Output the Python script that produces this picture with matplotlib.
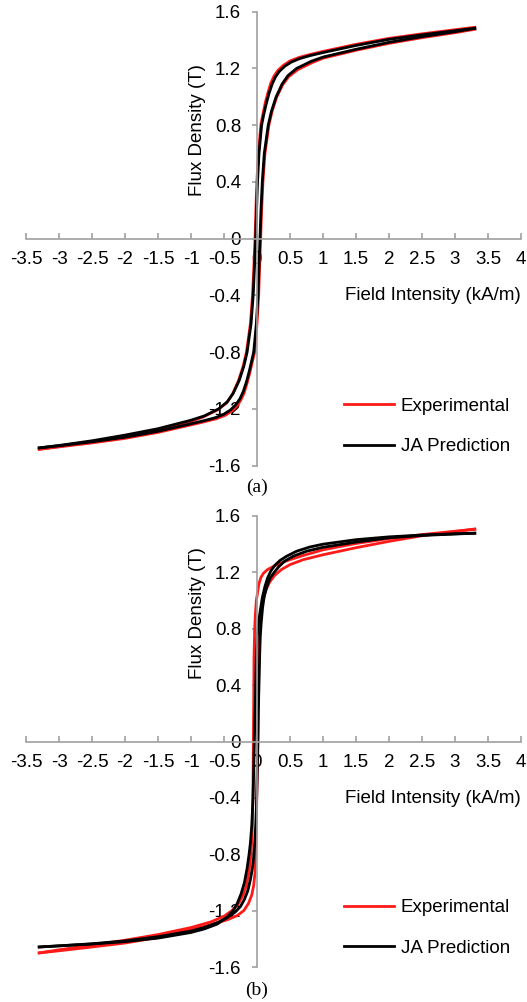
import matplotlib
matplotlib.use('Agg')
import matplotlib.pyplot as plt
from matplotlib.ticker import FixedLocator, FuncFormatter

plt.rcParams['font.family'] = ['Liberation Sans', 'DejaVu Sans']

# --- Dados: H (kA/m), B (T) ---
# (a) Experimental - ramo descendente e ascendente
a_exp_desc_H = [3.3, 3.0, 2.5, 2.0, 1.5, 1.0, 0.8, 0.64, 0.5, 0.4, 0.32, 0.26, 0.21, 0.165, 0.125, 0.09,
                0.06, 0.02, -0.002, -0.017, -0.03, -0.048, -0.068, -0.1, -0.16, -0.21, -0.28, -0.37,
                -0.46, -0.6, -0.82, -1.0, -1.5, -2.0, -2.5, -3.0, -3.3]
a_exp_desc_B = [1.49, 1.473, 1.444, 1.412, 1.37, 1.32, 1.298, 1.278, 1.253, 1.222, 1.188, 1.148, 1.098, 1.028,
                0.958, 0.878, 0.808, 0.6, 0.4, 0.2, 0.0, -0.2, -0.4, -0.6, -0.8, -0.9, -1.0, -1.095,
                -1.158, -1.208, -1.258, -1.288, -1.348, -1.392, -1.432, -1.465, -1.485]
a_exp_asc_H = [-3.3, -3.0, -2.5, -2.0, -1.5, -1.0, -0.8, -0.62, -0.48, -0.38, -0.3, -0.245, -0.195, -0.15,
               -0.11, -0.07, -0.04, 0.0, 0.025, 0.04, 0.055, 0.07, 0.09, 0.12, 0.18, 0.23, 0.3, 0.39,
               0.48, 0.62, 0.84, 1.0, 1.5, 2.0, 2.5, 3.0, 3.3]
a_exp_asc_B = [-1.485, -1.468, -1.44, -1.408, -1.366, -1.313, -1.291, -1.27, -1.245, -1.215, -1.178, -1.138,
               -1.088, -1.018, -0.948, -0.868, -0.808, -0.6, -0.4, -0.2, 0.0, 0.2, 0.4, 0.6, 0.8, 0.9, 1.0,
               1.085, 1.142, 1.192, 1.242, 1.272, 1.328, 1.377, 1.417, 1.452, 1.476]

# (a) JA Prediction
a_ja_desc_H = [3.3, 3.0, 2.5, 2.0, 1.5, 1.0, 0.8, 0.65, 0.52, 0.42, 0.34, 0.28, 0.23, 0.18, 0.14, 0.10,
               0.07, 0.03, 0.008, -0.007, -0.02, -0.038, -0.058, -0.09, -0.15, -0.2, -0.27, -0.36,
               -0.45, -0.58, -0.8, -1.0, -1.5, -2.0, -2.5, -3.0, -3.3]
a_ja_desc_B = [1.483, 1.466, 1.437, 1.405, 1.362, 1.312, 1.29, 1.27, 1.245, 1.215, 1.18, 1.14, 1.09, 1.02,
               0.95, 0.87, 0.8, 0.6, 0.4, 0.2, 0.0, -0.2, -0.4, -0.6, -0.8, -0.9, -1.0, -1.09,
               -1.15, -1.2, -1.25, -1.28, -1.34, -1.385, -1.425, -1.458, -1.475]
a_ja_asc_H = [-3.3, -3.0, -2.5, -2.0, -1.5, -1.0, -0.8, -0.63, -0.5, -0.4, -0.32, -0.26, -0.21, -0.16,
              -0.12, -0.08, -0.05, -0.01, 0.015, 0.03, 0.045, 0.06, 0.08, 0.11, 0.17, 0.22, 0.29, 0.38,
              0.47, 0.6, 0.82, 1.0, 1.5, 2.0, 2.5, 3.0, 3.3]
a_ja_asc_B = [-1.475, -1.46, -1.432, -1.4, -1.358, -1.305, -1.283, -1.262, -1.237, -1.207, -1.17, -1.13,
              -1.08, -1.01, -0.94, -0.86, -0.8, -0.6, -0.4, -0.2, 0.0, 0.2, 0.4, 0.6, 0.8, 0.9, 1.0,
              1.09, 1.15, 1.2, 1.25, 1.28, 1.335, 1.384, 1.424, 1.459, 1.483]

# (b) Experimental
b_exp_desc_H = [3.3, 3.0, 2.5, 2.0, 1.5, 1.0, 0.7, 0.5, 0.35, 0.24, 0.16, 0.1, 0.06, 0.03, 0.01, -0.01,
                -0.025, -0.035, -0.045, -0.05, -0.055, -0.06, -0.07, -0.09, -0.12, -0.16, -0.21, -0.28,
                -0.38, -0.5, -0.7, -1.0, -1.5, -2.0, -2.5, -3.0, -3.3]
b_exp_desc_B = [1.505, 1.492, 1.468, 1.44, 1.405, 1.36, 1.32, 1.29, 1.265, 1.24, 1.22, 1.195, 1.165, 1.12,
                1.06, 1.0, 0.9, 0.8, 0.6, 0.3, 0.0, -0.3, -0.6, -0.8, -0.92, -1.02, -1.09, -1.15,
                -1.2, -1.24, -1.28, -1.32, -1.37, -1.41, -1.445, -1.478, -1.50]
b_exp_asc_H = [-3.3, -3.0, -2.5, -2.0, -1.5, -1.0, -0.7, -0.45, -0.3, -0.2, -0.13, -0.08, -0.05, -0.03,
               -0.02, -0.01, 0.0, 0.01, 0.02, 0.03, 0.045, 0.065, 0.09, 0.13, 0.19, 0.27, 0.37, 0.5,
               0.7, 1.0, 1.5, 2.0, 2.5, 3.0, 3.3]
b_exp_asc_B = [-1.50, -1.485, -1.458, -1.43, -1.39, -1.335, -1.3, -1.265, -1.235, -1.2, -1.15, -1.09,
               -1.02, -0.93, -0.8, -0.6, -0.3, 0.0, 0.3, 0.6, 0.8, 0.92, 1.0, 1.07, 1.13, 1.18, 1.22,
               1.255, 1.29, 1.325, 1.375, 1.42, 1.46, 1.49, 1.508]

# (b) JA Prediction
b_ja_desc_H = [3.3, 3.0, 2.5, 2.0, 1.5, 1.0, 0.8, 0.6, 0.45, 0.35, 0.27, 0.21, 0.16, 0.12, 0.08, 0.05,
               0.025, 0.005, -0.01, -0.02, -0.03, -0.04, -0.05, -0.06, -0.08, -0.1, -0.12, -0.15,
               -0.19, -0.24, -0.3, -0.36, -0.45, -0.6, -0.8, -1.0, -1.5, -2.0, -2.5, -3.0, -3.3]
b_ja_desc_B = [1.478, 1.474, 1.465, 1.452, 1.432, 1.40, 1.38, 1.35, 1.315, 1.285, 1.25, 1.21, 1.16, 1.1,
               1.02, 0.93, 0.85, 0.75, 0.6, 0.4, 0.2, 0.0, -0.2, -0.4, -0.6, -0.72, -0.8, -0.9,
               -1.0, -1.08, -1.15, -1.2, -1.245, -1.295, -1.33, -1.355, -1.395, -1.42, -1.437, -1.45, -1.458]
b_ja_asc_H = [-3.3, -3.0, -2.5, -2.0, -1.5, -1.0, -0.8, -0.6, -0.45, -0.33, -0.25, -0.19, -0.14, -0.1,
              -0.07, -0.05, -0.035, -0.02, -0.005, 0.005, 0.015, 0.02, 0.03, 0.04, 0.05, 0.065, 0.085,
              0.11, 0.15, 0.2, 0.26, 0.33, 0.42, 0.55, 0.75, 1.0, 1.5, 2.0, 2.5, 3.0, 3.3]
b_ja_asc_B = [-1.458, -1.45, -1.435, -1.415, -1.385, -1.345, -1.32, -1.285, -1.25, -1.21, -1.17, -1.12,
              -1.06, -0.98, -0.9, -0.82, -0.72, -0.6, -0.4, -0.2, 0.0, 0.2, 0.4, 0.6, 0.75, 0.85, 0.95,
              1.03, 1.1, 1.16, 1.2, 1.24, 1.28, 1.315, 1.35, 1.378, 1.415, 1.445, 1.462, 1.472, 1.478]

x_ticks = [-3.5, -3, -2.5, -2, -1.5, -1, -0.5, 0, 0.5, 1, 1.5, 2, 2.5, 3, 3.5, 4]
y_ticks = [-1.6, -1.2, -0.8, -0.4, 0, 0.4, 0.8, 1.2, 1.6]

COR_EIXO = '#a0a0a0'
FS = 13.5


def desenha_painel(ax, exp, ja, ylabel_y):
    # curvas: experimental por baixo, JA por cima
    ax.plot(exp[0], exp[1], color='#ff1a1a', lw=2.0, label='Experimental', solid_joinstyle='round')
    ax.plot(exp[2], exp[3], color='#ff1a1a', lw=2.0, solid_joinstyle='round')
    ax.plot(ja[0], ja[1], color='black', lw=2.0, label='JA Prediction', solid_joinstyle='round')
    ax.plot(ja[2], ja[3], color='black', lw=2.0, solid_joinstyle='round')

    ax.set_xlim(-3.5, 4)
    ax.set_ylim(-1.6, 1.6)

    # eixos cruzando na origem
    for lado in ['top', 'right']:
        ax.spines[lado].set_visible(False)
    ax.spines['left'].set_position(('data', 0))
    ax.spines['bottom'].set_position(('data', 0))
    for lado in ['left', 'bottom']:
        ax.spines[lado].set_color(COR_EIXO)
        ax.spines[lado].set_linewidth(1.2)

    fmt = FuncFormatter(lambda v, pos: f'{v:g}')
    ax.xaxis.set_major_locator(FixedLocator(x_ticks))
    ax.yaxis.set_major_locator(FixedLocator(y_ticks))
    ax.xaxis.set_major_formatter(fmt)
    ax.yaxis.set_major_formatter(fmt)
    ax.tick_params(axis='x', direction='in', length=4, width=1.2, color=COR_EIXO,
                   labelsize=FS, pad=9)
    ax.tick_params(axis='y', direction='out', length=3.5, width=1.2, color=COR_EIXO,
                   labelsize=FS, pad=8)

    ax.text(0.346, ylabel_y, 'Flux Density (T)', rotation=90, transform=ax.transAxes,
            ha='center', va='center', fontsize=FS)
    ax.text(1.0, 0.374, 'Field Intensity (kA/m)', transform=ax.transAxes,
            ha='right', va='center', fontsize=FS)

    ax.legend(loc='center left', bbox_to_anchor=(0.642, 0.086), frameon=False,
              fontsize=FS, handlelength=2.7, handletextpad=0.35, labelspacing=1.25,
              borderpad=0, borderaxespad=0)


fig = plt.figure(figsize=(5.27, 10.02), dpi=100)

ax_a = fig.add_axes([26 / 527, 1 - 465.6 / 1002, 495 / 527, 453.9 / 1002])
desenha_painel(ax_a, (a_exp_desc_H, a_exp_desc_B, a_exp_asc_H, a_exp_asc_B),
               (a_ja_desc_H, a_ja_desc_B, a_ja_asc_H, a_ja_asc_B), 0.74)

ax_b = fig.add_axes([26 / 527, 1 - 967 / 1002, 495 / 527, 451 / 1002])
desenha_painel(ax_b, (b_exp_desc_H, b_exp_desc_B, b_exp_asc_H, b_exp_asc_B),
               (b_ja_desc_H, b_ja_desc_B, b_ja_asc_H, b_ja_asc_B), 0.785)

fig.text(257 / 527, 1 - 487 / 1002, '(a)', family=['Liberation Serif', 'DejaVu Serif'],
         ha='center', va='center', fontsize=14)
fig.text(257 / 527, 1 - 990 / 1002, '(b)', family=['Liberation Serif', 'DejaVu Serif'],
         ha='center', va='center', fontsize=14)

fig.savefig('out.png', dpi=100)
